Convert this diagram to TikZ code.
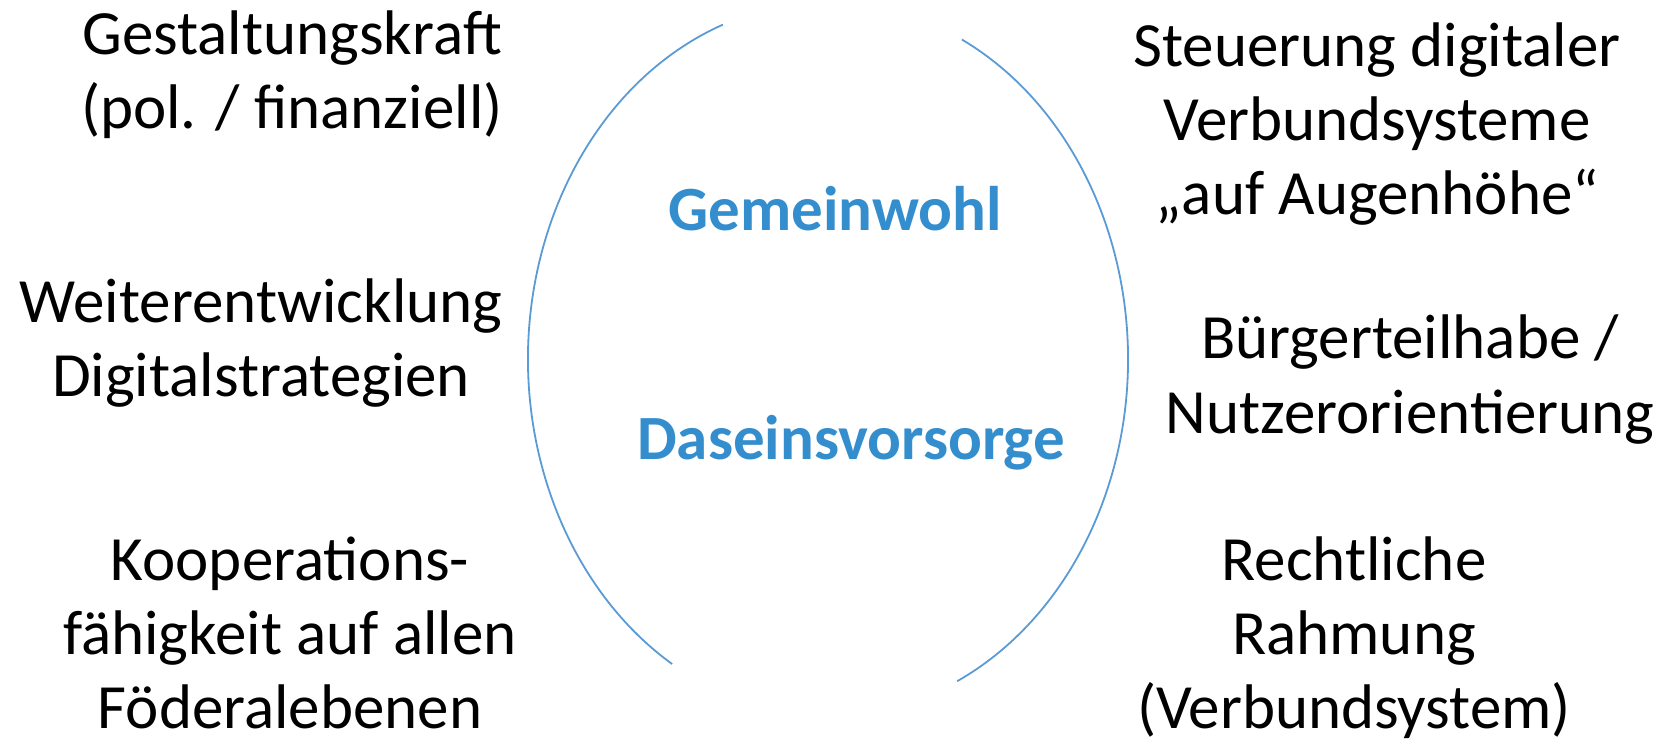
\documentclass[tikz,border=0pt]{standalone}
\usepackage{fontspec}
\setmainfont{Carlito}
\definecolor{bogenblau}{RGB}{91,155,213}
\definecolor{kernblau}{RGB}{52,142,206}
\tikzset{
    stichwort/.style={align=center, anchor=base, inner sep=0pt, font=\fontsize{31.5}{37}\selectfont},
    kernwort/.style={anchor=base, inner sep=0pt, text=kernblau, font=\fontsize{31.5}{37}\selectfont\bfseries},
    bogen/.style={bogenblau, line width=0.9pt}
}
\begin{document}
\begin{tikzpicture}[x=0.5pt, y=0.5pt]
        \useasboundingbox (0,0) rectangle (1673,739);
        \coordinate (mitte) at (828,380);
        \draw[bogen] ([shift={(110.5:300 and 357)}]mitte) arc[start angle=110.5, end angle=238.7, x radius=300, y radius=357];
        \draw[bogen] ([shift={(63.5:300 and 357)}]mitte) arc[start angle=63.5, end angle=-64.5, x radius=300, y radius=357];

        \node[kernwort] (gemeinwohl) at (835,508) {Gemeinwohl};
        \node[kernwort] (daseinsvorsorge) at (851,279) {Daseinsvorsorge};

        % linke Seite
        \node[stichwort] (gestaltung) at (292,610) {Gestaltungskraft\\(pol. / finanziell)};
        \node[stichwort] (weiterentw) at (261,342) {Weiterentwicklung\\Digitalstrategien};
        \node[stichwort] (kooperation) at (290,11) {Kooperations-\\fähigkeit auf allen\\Föderalebenen};

        % rechte Seite
        \node[stichwort] (steuerung) at (1377,524) {Steuerung digitaler\\Verbundsysteme\\„auf Augenhöhe“};
        \node[stichwort] (teilhabe) at (1410,306) {Bürgerteilhabe /\\Nutzerorientierung};
        \node[stichwort] (rahmung) at (1354,11) {Rechtliche\\Rahmung\\(Verbundsystem)};
    \end{tikzpicture}
\end{document}
